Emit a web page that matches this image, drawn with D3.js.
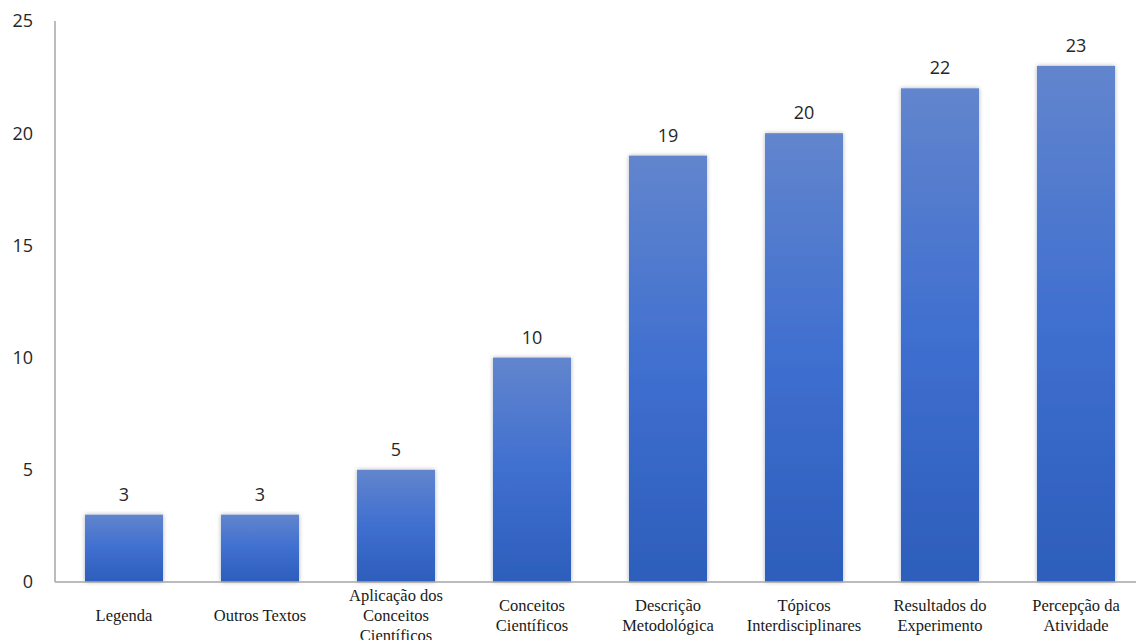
<!DOCTYPE html>
<html>
<head>
<meta charset="utf-8">
<script src="https://cdn.jsdelivr.net/npm/d3@7"></script>
<style>
  body { margin: 0; background: #fff; overflow: hidden; }
</style>
</head>
<body>
<div id="chart"></div>
<script>
// data
var categories = [
    ["Legenda"],
    ["Outros Textos"],
    ["Aplicação dos", "Conceitos", "Científicos"],
    ["Conceitos", "Científicos"],
    ["Descrição", "Metodológica"],
    ["Tópicos", "Interdisciplinares"],
    ["Resultados do", "Experimento"],
    ["Percepção da", "Atividade"]
];
var values = [3, 3, 5, 10, 19, 20, 22, 23];
var yTicks = [0, 5, 10, 15, 20, 25];

var W = 1136, H = 640;
var margin = { top: 21, left: 55, bottom: 58 };
var plotBottom = H - margin.bottom; // 582

var svg = d3.select("#chart").append("svg")
    .attr("width", W).attr("height", H);

var defs = svg.append("defs");
var grad = defs.append("linearGradient")
    .attr("id", "barGrad")
    .attr("x1", 0).attr("y1", 0).attr("x2", 0).attr("y2", 1);
grad.append("stop").attr("offset", "0%").attr("stop-color", "#6285CD");
grad.append("stop").attr("offset", "50%").attr("stop-color", "#3F6FD0");
grad.append("stop").attr("offset", "100%").attr("stop-color", "#2D5EBB");

var shadow = defs.append("filter").attr("id", "shadow")
    .attr("x", "-20%").attr("y", "-5%").attr("width", "140%").attr("height", "110%");
shadow.append("feDropShadow")
    .attr("dx", 0).attr("dy", 0).attr("stdDeviation", 2)
    .attr("flood-color", "#000").attr("flood-opacity", 0.3);

var x = d3.scaleBand()
    .domain(d3.range(categories.length))
    .range([margin.left + 1, margin.left + 1 + 136 * categories.length])
    .paddingInner(0.426)
    .paddingOuter(0.213);

var y = d3.scaleLinear()
    .domain([0, 25])
    .range([plotBottom, margin.top]);

// y tick labels
svg.selectAll("text.ytick").data(yTicks).enter().append("text")
    .attr("class", "ytick")
    .attr("x", 33)
    .attr("y", function(d) { return y(d); })
    .attr("dy", "0.35em")
    .attr("text-anchor", "end")
    .attr("font-family", "'Open Sans', sans-serif")
    .attr("font-size", "18px")
    .attr("fill", "#262626")
    .text(function(d) { return d; });

// bars
svg.selectAll("rect.bar").data(values).enter().append("rect")
    .attr("class", "bar")
    .attr("x", function(d, i) { return x(i); })
    .attr("y", function(d) { return y(d); })
    .attr("width", x.bandwidth())
    .attr("height", function(d) { return plotBottom - y(d); })
    .attr("fill", "url(#barGrad)")
    .attr("filter", "url(#shadow)");

// axes lines
svg.append("line")
    .attr("x1", margin.left).attr("x2", margin.left)
    .attr("y1", margin.top).attr("y2", plotBottom)
    .attr("stroke", "#A6A6A6").attr("stroke-width", 1.5);
svg.append("line")
    .attr("x1", margin.left).attr("x2", W)
    .attr("y1", plotBottom).attr("y2", plotBottom)
    .attr("stroke", "#A6A6A6").attr("stroke-width", 1.5);

// value labels
svg.selectAll("text.val").data(values).enter().append("text")
    .attr("class", "val")
    .attr("x", function(d, i) { return x(i) + x.bandwidth() / 2; })
    .attr("y", function(d) { return y(d) - 14; })
    .attr("text-anchor", "middle")
    .attr("font-family", "'Open Sans', sans-serif")
    .attr("font-size", "18px")
    .attr("fill", "#262626")
    .text(function(d) { return d; });

// category labels
var lineH = 20;
svg.selectAll("text.cat").data(categories).enter().append("text")
    .attr("class", "cat")
    .attr("text-anchor", "middle")
    .attr("font-family", "'Liberation Serif', 'Times New Roman', serif")
    .attr("font-size", "16.5px")
    .attr("fill", "#1a1a1a")
    .each(function(lines, i) {
        var t = d3.select(this);
        var cx = x(i) + x.bandwidth() / 2;
        var startY = 615 - (lines.length - 1) * lineH / 2;
        lines.forEach(function(s, k) {
            t.append("tspan")
                .attr("x", cx)
                .attr("y", startY + k * lineH)
                .attr("dy", "0.35em")
                .text(s);
        });
    });
</script>
</body>
</html>
